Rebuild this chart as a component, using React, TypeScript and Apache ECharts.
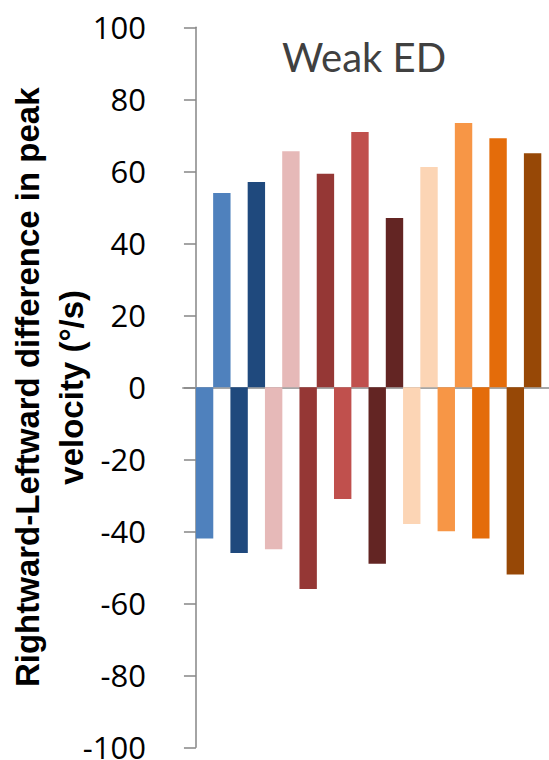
import React, { useEffect, useRef } from "react";
import * as echarts from "echarts";

// Ten conditions, each with a leftward (negative) and rightward (positive) bar
const conditions = ["C1", "C2", "C3", "C4", "C5", "C6", "C7", "C8", "C9", "C10"];
const negativeValues = [-42, -46, -45, -56, -31, -49, -38, -40, -42, -52];
const positiveValues = [54, 57, 65.6, 59.3, 70.9, 47, 61.2, 73.4, 69.2, 65];
const palette = [
  "#4F81BD", "#1F497D", "#E6B9B8", "#953735", "#C0504D",
  "#632523", "#FCD5B5", "#F79646", "#E46C0A", "#974806",
];
const yTicks = { min: -100, max: 100, interval: 20 };
const titleText = "Weak ED";
const yAxisName = "Rightward-Leftward difference in peak\nvelocity (°/s)";

export default function App() {
  const ref = useRef<HTMLDivElement>(null);

  useEffect(() => {
    document.body.style.margin = "0";
    if (!ref.current) return;
    const chart = echarts.init(ref.current, undefined, { renderer: "svg" });

    const barData: any[] = [];
    conditions.forEach((name, i) => {
      barData.push({
        name: name + " neg",
        value: [2 * i + 0.5, negativeValues[i]],
        itemStyle: { color: palette[i] },
      });
      barData.push({
        name: name + " pos",
        value: [2 * i + 1.5, positiveValues[i]],
        itemStyle: { color: palette[i] },
      });
    });

    chart.setOption({
      animation: false,
      title: {
        text: titleText,
        left: 359,
        top: 32,
        textAlign: "center",
        textStyle: {
          fontFamily: "Lato",
          fontWeight: "normal",
          fontSize: 40,
          color: "#404040",
        },
      },
      grid: {
        left: 183,
        right: 0,
        top: 27.3,
        bottom: 12.7,
        containLabel: false,
        outerBoundsMode: "none",
      },
      xAxis: {
        type: "value",
        min: -0.75,
        max: 20.45,
        axisLine: { show: true, onZero: true, lineStyle: { color: "#A6A6A6", width: 2 } },
        axisTick: { show: false },
        axisLabel: { show: false },
        splitLine: { show: false },
      },
      yAxis: {
        type: "value",
        min: yTicks.min,
        max: yTicks.max,
        interval: yTicks.interval,
        name: yAxisName,
        nameLocation: "middle",
        nameRotate: 90,
        nameGap: 90,
        nameMoveOverlap: false,
        nameTextStyle: {
          fontFamily: "Liberation Sans",
          fontWeight: "bold",
          fontSize: 33,
          lineHeight: 44,
          color: "#000000",
          align: "center",
        },
        axisLine: { show: true, lineStyle: { color: "#868686", width: 1.5 } },
        axisTick: { show: true, inside: false, length: 12, lineStyle: { color: "#868686", width: 1.5 } },
        axisLabel: {
          margin: 37,
          fontFamily: "Open Sans",
          fontSize: 31,
          color: "#000000",
        },
        splitLine: { show: false },
      },
      series: [
        {
          type: "bar",
          barWidth: 17.4,
          data: barData,
        },
      ],
    });

    return () => chart.dispose();
  }, []);

  return <div ref={ref} style={{ width: 549, height: 760 }} />;
}
